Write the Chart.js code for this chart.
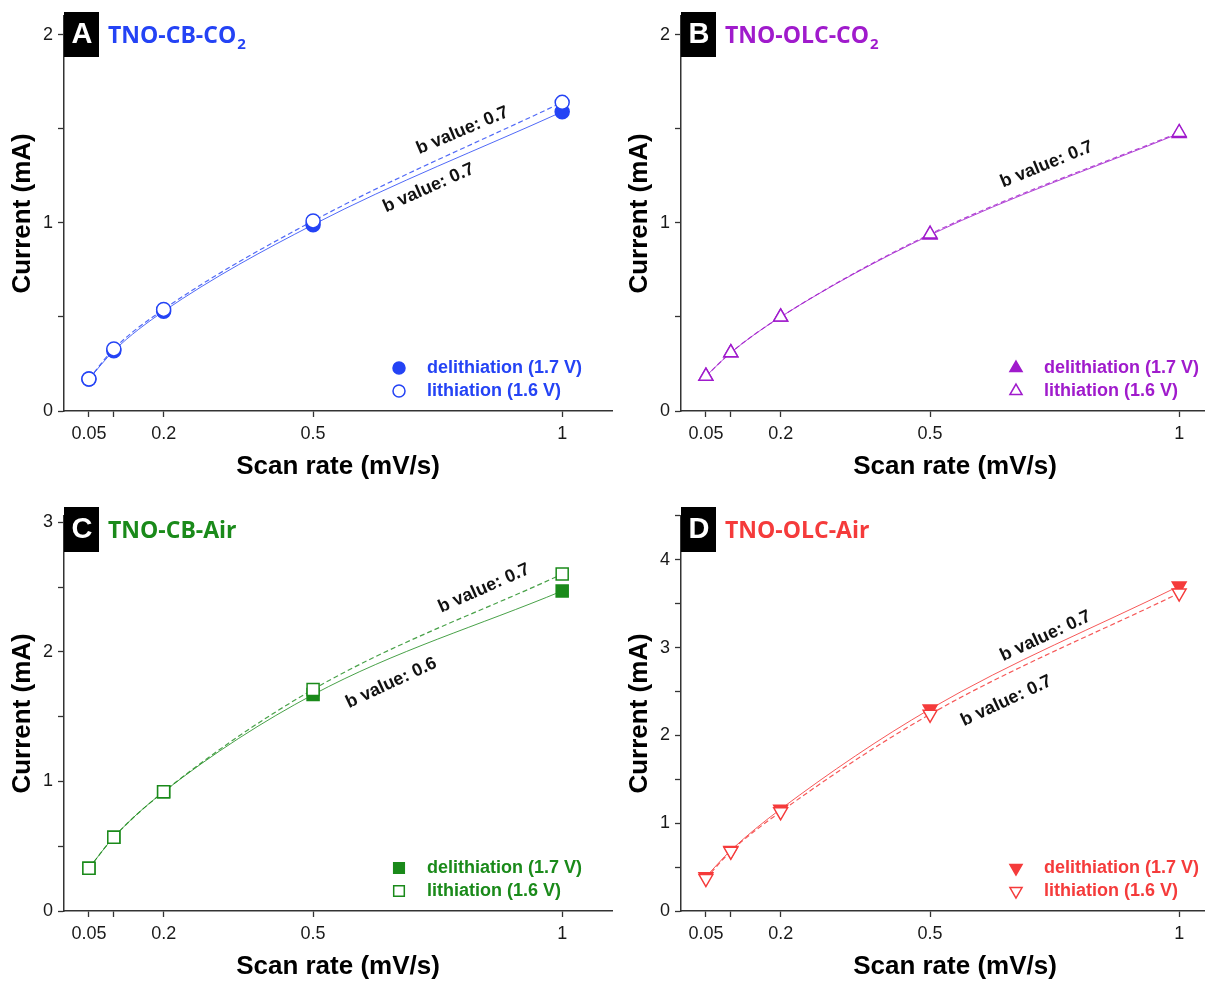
<!DOCTYPE html>
<html>
<head>
<meta charset="utf-8">
<title>Scan rate vs current</title>
<script src="https://cdn.jsdelivr.net/npm/chart.js@4.4.0/dist/chart.umd.min.js"></script>
<style>
    html, body { margin: 0; padding: 0; background: #fff; }
    body { position: relative; width: 1205px; height: 982px; overflow: hidden; }
    canvas { position: absolute; }
</style>
</head>
<body>
<canvas id="chartA" width="617" height="490" style="left:0;top:0"></canvas>
<canvas id="chartB" width="617" height="490" style="left:617px;top:0"></canvas>
<canvas id="chartC" width="617" height="490" style="left:0;top:500px"></canvas>
<canvas id="chartD" width="617" height="490" style="left:617px;top:500px"></canvas>
<script>
// scan rates (mV/s) shared by all four panels
const scanRates = [0.05, 0.1, 0.2, 0.5, 1];
const xTicks = [0.05, 0.1, 0.2, 0.5, 1];
const xTickLabels = ['0.05', '', '0.2', '0.5', '1'];

// current (mA)
const delithA = [0.17, 0.32, 0.53, 0.99, 1.59];
const lithA = [0.17, 0.33, 0.54, 1.01, 1.64];
const delithB = [0.185, 0.31, 0.50, 0.935, 1.475];
const lithB = [0.185, 0.31, 0.50, 0.94, 1.48];
const delithC = [0.33, 0.57, 0.92, 1.67, 2.47];
const lithC = [0.33, 0.57, 0.92, 1.71, 2.60];
const delithD = [0.39, 0.69, 1.16, 2.30, 3.70];
const lithD = [0.37, 0.68, 1.13, 2.24, 3.62];

const yTicksA = [0, 0.5, 1, 1.5, 2];
const yTicksB = [0, 0.5, 1, 1.5, 2];
const yTicksC = [0, 0.5, 1, 1.5, 2, 2.5, 3];
const yTicksD = [0, 0.5, 1, 1.5, 2, 2.5, 3, 3.5, 4, 4.5];

const legendLabels = ['delithiation (1.7 V)', 'lithiation (1.6 V)'];
const bLabelsA = ['b value: 0.7', 'b value: 0.7'];
const bLabelsB = ['b value: 0.7'];
const bLabelsC = ['b value: 0.7', 'b value: 0.6'];
const bLabelsD = ['b value: 0.7', 'b value: 0.7'];

const FONT = "'Liberation Sans', Arial, Helvetica, sans-serif";

const panels = [
    {
        id: 'chartA', letter: 'A', title: 'TNO-CB-CO', sub: '2',
        color: '#2443f5', lineColor: 'rgba(36, 67, 245, 0.8)',
        delith: delithA, lith: lithA, yMax: 2.1, yTicks: yTicksA,
        padTop: 14, boxTop: 12, shape: 'circle', rotation: 0, radius: 7,
        notes: [
            { text: bLabelsA[0], x: 0.80, y: 1.49, angle: -23 },
            { text: bLabelsA[1], x: 0.732, y: 1.185, angle: -24 }
        ]
    },
    {
        id: 'chartB', letter: 'B', title: 'TNO-OLC-CO', sub: '2',
        color: '#a01bcc', lineColor: 'rgba(160, 27, 204, 0.8)',
        delith: delithB, lith: lithB, yMax: 2.1, yTicks: yTicksB,
        padTop: 14, boxTop: 12, shape: 'triangle', rotation: 0, radius: 8,
        notes: [
            { text: bLabelsB[0], x: 0.734, y: 1.31, angle: -22 }
        ]
    },
    {
        id: 'chartC', letter: 'C', title: 'TNO-CB-Air', sub: '',
        color: '#1a8a1a', lineColor: 'rgba(26, 138, 26, 0.8)',
        delith: delithC, lith: lithC, yMax: 3.05, yTicks: yTicksC,
        padTop: 6, boxTop: 7, shape: 'rect', rotation: 0, radius: 8.5,
        notes: [
            { text: bLabelsC[0], x: 0.843, y: 2.49, angle: -24 },
            { text: bLabelsC[1], x: 0.657, y: 1.76, angle: -25 }
        ]
    },
    {
        id: 'chartD', letter: 'D', title: 'TNO-OLC-Air', sub: '',
        color: '#f53b3b', lineColor: 'rgba(245, 59, 59, 0.85)',
        delith: delithD, lith: lithD, yMax: 4.5, yTicks: yTicksD,
        padTop: 12, boxTop: 7, shape: 'triangle', rotation: 180, radius: 8,
        notes: [
            { text: bLabelsD[0], x: 0.732, y: 3.13, angle: -25 },
            { text: bLabelsD[1], x: 0.653, y: 2.39, angle: -25 }
        ]
    }
];

const drawMarker = (ctx, style, radius, rotation, x, y) => {
    Chart.helpers.drawPoint(ctx, { pointStyle: style, radius: radius, rotation: rotation, borderWidth: 1.5 }, x, y);
};

// letter box, coloured title, rotated b value notes and the legend
const panelDecor = {
    id: 'panelDecor',
    afterDraw(chart, args, opts) {
        const p = opts.panel;
        const ctx = chart.ctx;
        const area = chart.chartArea;
        const xs = chart.scales.x;
        const ys = chart.scales.y;
        ctx.save();

        ctx.fillStyle = '#000';
        ctx.fillRect(area.left, p.boxTop, 35, 45);
        ctx.fillStyle = '#fff';
        ctx.font = `bold 29px ${FONT}`;
        ctx.textAlign = 'center';
        ctx.textBaseline = 'middle';
        ctx.fillText(p.letter, area.left + 18, p.boxTop + 23);

        ctx.fillStyle = p.color;
        ctx.textAlign = 'left';
        ctx.textBaseline = 'alphabetic';
        ctx.font = "700 23px 'Open Sans', sans-serif";
        ctx.fillText(p.title, 108, p.boxTop + 31);
        if (p.sub) {
            const w = ctx.measureText(p.title).width;
            ctx.font = "700 15px 'Open Sans', sans-serif";
            ctx.fillText(p.sub, 108 + w + 1, p.boxTop + 37);
        }

        ctx.fillStyle = '#111';
        ctx.font = `bold 18px ${FONT}`;
        ctx.textAlign = 'center';
        ctx.textBaseline = 'middle';
        p.notes.forEach(n => {
            ctx.save();
            ctx.translate(xs.getPixelForValue(n.x), ys.getPixelForValue(n.y));
            ctx.rotate(n.angle * Math.PI / 180);
            ctx.fillText(n.text, 0, 0);
            ctx.restore();
        });

        // legend, bottom right inside the plot
        const mx = area.right - 213;
        const tx = area.right - 185;
        const rows = [area.bottom - 43, area.bottom - 20];
        ctx.strokeStyle = p.color;
        ctx.lineWidth = 1.5;
        ctx.fillStyle = p.color;
        drawMarker(ctx, p.shape, p.radius - 1, p.rotation, mx, rows[0]);
        ctx.fillStyle = '#fff';
        drawMarker(ctx, p.shape, p.radius - 1, p.rotation, mx, rows[1]);

        ctx.fillStyle = p.color;
        ctx.font = `bold 18px ${FONT}`;
        ctx.textAlign = 'left';
        ctx.fillText(legendLabels[0], tx, rows[0]);
        ctx.fillText(legendLabels[1], tx, rows[1]);
        ctx.restore();
    }
};

const axisGrid = {
    drawOnChartArea: false,
    drawTicks: true,
    tickLength: 6,
    tickColor: '#333',
    tickWidth: 1.3
};

panels.forEach(p => {
    const points = (vals) => scanRates.map((x, i) => ({ x: x, y: vals[i] }));

    new Chart(document.getElementById(p.id), {
        type: 'line',
        data: {
            datasets: [
                {
                    label: legendLabels[1],
                    data: points(p.lith),
                    borderColor: p.lineColor,
                    borderWidth: 1.2,
                    borderDash: [5, 3],
                    cubicInterpolationMode: 'monotone',
                    pointStyle: p.shape,
                    pointRotation: p.rotation,
                    pointRadius: p.radius,
                    pointBorderWidth: 1.5,
                    pointBorderColor: p.color,
                    pointBackgroundColor: '#fff',
                    fill: false
                },
                {
                    label: legendLabels[0],
                    data: points(p.delith),
                    borderColor: p.lineColor,
                    borderWidth: 1,
                    cubicInterpolationMode: 'monotone',
                    pointStyle: p.shape,
                    pointRotation: p.rotation,
                    pointRadius: p.radius,
                    pointBorderWidth: 1.5,
                    pointBorderColor: p.color,
                    pointBackgroundColor: p.color,
                    fill: false
                }
            ]
        },
        options: {
            responsive: false,
            animation: false,
            devicePixelRatio: 1,
            layout: {
                padding: { top: p.padTop, right: 5, left: 0, bottom: 0 },
                autoPadding: false
            },
            plugins: {
                legend: { display: false },
                tooltip: { enabled: false },
                panelDecor: { panel: p }
            },
            scales: {
                x: {
                    type: 'linear',
                    min: 0,
                    max: 1.1,
                    afterBuildTicks: (s) => { s.ticks = xTicks.map(v => ({ value: v })); },
                    afterFit: (s) => { s.height = 79; },
                    ticks: {
                        autoSkip: false,
                        maxRotation: 0,
                        padding: 6,
                        color: '#1a1a1a',
                        font: { family: FONT, size: 18 },
                        callback: (v, i) => xTickLabels[i]
                    },
                    grid: axisGrid,
                    border: { color: '#333', width: 1.5 },
                    title: {
                        display: true,
                        text: 'Scan rate (mV/s)',
                        color: '#000',
                        font: { family: FONT, size: 26, weight: 'bold', lineHeight: 1 },
                        padding: { top: 0, bottom: 10 }
                    }
                },
                y: {
                    type: 'linear',
                    min: 0,
                    max: p.yMax,
                    afterBuildTicks: (s) => { s.ticks = p.yTicks.map(v => ({ value: v })); },
                    afterFit: (s) => { s.width = 64; },
                    ticks: {
                        autoSkip: false,
                        padding: 5,
                        color: '#1a1a1a',
                        font: { family: FONT, size: 18 },
                        callback: (v) => Number.isInteger(v) ? String(v) : ''
                    },
                    grid: axisGrid,
                    border: { color: '#333', width: 1.5 },
                    title: {
                        display: true,
                        text: 'Current (mA)',
                        color: '#000',
                        font: { family: FONT, size: 26, weight: 'bold', lineHeight: 1 },
                        padding: { top: 10, bottom: 0 }
                    }
                }
            }
        },
        plugins: [panelDecor]
    });
});
</script>
</body>
</html>
